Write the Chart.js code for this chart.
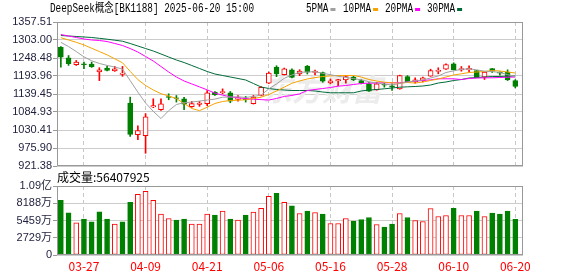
<!DOCTYPE html>
<html>
<head>
<meta charset="utf-8">
<script src="https://cdn.jsdelivr.net/npm/chart.js@4.4.1/dist/chart.umd.min.js"></script>
<style>
  html, body { margin: 0; padding: 0; background: #fff; }
  #wrap { position: relative; width: 578px; height: 276px; }
  #wrap canvas { position: absolute; left: 0; top: 0; }
</style>
</head>
<body>
<div id="wrap">
  <canvas id="kline" width="578" height="276"></canvas>
  <canvas id="volume" width="578" height="276"></canvas>
</div>
<script>
// trading days shown (2025)
const dates = ['03-24','03-25','03-26','03-27','03-28','03-31','04-01','04-02','04-03','04-07',
  '04-08','04-09','04-10','04-11','04-14','04-15','04-16','04-17','04-18','04-21',
  '04-22','04-23','04-24','04-25','04-28','04-29','04-30','05-06','05-07','05-08',
  '05-09','05-12','05-13','05-14','05-15','05-16','05-19','05-20','05-21','05-22',
  '05-23','05-26','05-27','05-28','05-29','05-30','06-03','06-04','06-05','06-06',
  '06-09','06-10','06-11','06-12','06-13','06-16','06-17','06-18','06-19','06-20'];
const xLabels = ['03-27','04-09','04-21','05-06','05-16','05-28','06-10','06-20'];

const opens  = [1281,1249,1228,1231,1230,1206,1218,1209,1199,1112,
  1016,1013,1100,1092,1132,1128,1125,1101,1108,1110,
  1145,1143,1143,1123,1125,1110,1135,1172,1221,1198,
  1213,1200,1224,1204.6,1204,1173,1179,1182,1190.4,1180,
  1170,1152,1169,1164,1155,1192.4,1176,1180.3,1193.4,1207.6,
  1214.6,1231,1212.7,1213,1210.6,1190.4,1216.7,1205.5,1205.5,1180.3];
const highs  = [1283,1256,1241,1236,1236,1219,1224,1223,1223,1130,
  1043,1080,1125,1125,1140,1135,1129,1117,1117,1150,
  1147,1155,1147,1135,1132,1135,1162,1206,1225,1218,
  1216,1213,1226,1212,1206,1185,1184,1196,1193,1183,
  1174,1175,1172,1170,1196.5,1195,1188.5,1191,1214.6,1218.8,
  1231,1234,1222.7,1224.8,1211,1206,1217,1206.5,1212.7,1183];
const lows   = [1221,1226,1226,1216,1220,1180,1209,1208,1193,1011,
  1001,960,1098,1090,1122,1115,1092,1099,1102,1104,
  1135,1140,1113,1118,1115,1109,1134,1171,1192,1197,
  1188,1195,1200,1197,1175,1170,1165,1172,1180,1170,
  1147,1151,1160,1150,1154,1175,1172,1176,1193,1200.5,
  1214,1212,1208.5,1205.5,1188.5,1183.4,1204.6,1196.5,1180.3,1158];
const closes = [1251,1231,1236,1228,1222,1213,1211,1216,1203,1017,
  1029,1070,1104,1110,1129,1126,1109,1110.5,1112,1143,
  1137,1147,1118,1128,1122,1130,1160,1202.5,1200,1216,
  1190,1208.5,1205.5,1208.5,1178,1179,1183.4,1192.4,1182.4,1172,
  1148,1170,1166,1160,1195.5,1175.2,1182.4,1188.5,1210.6,1211.5,
  1228.8,1212.7,1216.7,1217,1188.5,1205.5,1208.5,1202.5,1182.4,1162.2];

const ma5  = [1296,1283,1268,1252,1240,1232,1226,1221,1215,1180,
  1145,1112,1087,1065,1089,1107.6,1113,1115,1118,1121,
  1124,1129.8,1130,1131,1129,1132,1136,1155,1170,1187,
  1197,1205,1206,1207,1202,1198,1193,1190,1186,1182.5,
  1176.5,1173,1169,1167,1171,1176,1179,1182,1188,1194,
  1204.6,1209.5,1214,1216,1212.5,1208.6,1207.4,1204.5,1198,1192.3];
const ma10 = [1310,1303,1296,1288,1278,1268,1258,1246,1234,1208,
  1183,1165.2,1151.5,1140.5,1133.4,1125.8,1110.7,1095.5,1089,1099.5,
  1110.7,1116.7,1119.7,1120.7,1121.9,1125.8,1129.7,1137.9,1148.5,1160,
  1172,1179,1185,1189,1192.4,1194,1195.5,1195.5,1195.5,1190.9,
  1183.3,1178.8,1175.2,1173.4,1172.1,1174.3,1172.7,1175.8,1180.3,1184.9,
  1190.9,1197,1200.6,1204.6,1206.1,1207.6,1210.6,1209.1,1206.1,1203];
const ma20 = [1319.6,1315.1,1310.6,1306,1303,1301.5,1298.4,1292.4,1286.3,1277.2,
  1266.6,1253,1239.4,1222.7,1206.1,1190.9,1178.8,1170,1161,1152,
  1142,1136,1131,1128,1125.5,1123.5,1122.5,1121,1126,1132,
  1135,1140,1150,1153.1,1156.1,1159.1,1163.1,1165.2,1168.2,1171.2,
  1172.1,1172.7,1173.4,1173.4,1173.4,1175.8,1178.2,1180.3,1182.4,1185.5,
  1185.5,1185.5,1183.3,1186.4,1187.9,1188.5,1188.5,1189.4,1190.3,1190.8];
const ma30 = [1316.6,1315.1,1313.6,1312.1,1310.6,1308.1,1305.4,1302.4,1299.3,1292.4,
  1284.8,1277.2,1269.7,1260.6,1251.5,1242.4,1234.8,1225.8,1216.7,1207.6,
  1200,1195.5,1190.9,1186.4,1181.8,1171.2,1160.6,1156.1,1153.1,1151.5,
  1150,1150,1150,1148.5,1145.5,1143.1,1143.1,1143.1,1143.1,1148.5,
  1151.5,1153.1,1155.2,1157.6,1160,1161.2,1162.2,1163.7,1166.7,1172.7,
  1175.8,1180.3,1183.3,1187.9,1189.4,1190.9,1192.4,1192.4,1193.3,1194];

// volume in 万 (10k shares); volUp: 1 = red bar, 0 = green bar
const volume = [8663,6662,5087,5670,5245,6820,5670,4883,5245,8348,
  9608,10080,8663,6458,5780,5513,5670,4883,4883,6458,
  6300,6930,5670,5513,6300,6773,7403,9293,9765,8348,
  7765,6563,6930,6720,6458,4988,4988,5780,5355,5618,
  5933,4830,4410,4883,6563,5933,5460,5303,7350,6090,
  6248,7403,6248,6248,6930,6090,6615,6458,6930,5640.7925];
const volUp = [0,0,1,0,0,0,0,1,0,0, 1,1,1,1,1,0,0,1,1,1,
  0,1,0,1,0,1,1,1,0,1, 0,1,0,1,0,1,1,1,0,0,
  0,1,0,0,1,0,1,1,1,1, 1,0,1,1,0,1,0,0,0,0];

const priceTicks = ['921.38','975.90','1030.41','1084.93','1139.45','1193.96','1248.48','1303.00','1357.51'];
const volTicks = ['0','2729万','5459万','8188万','1.09亿'];
const priceMin = 921.38, priceMax = 1357.51;
const volMax = 10917;

const titleText = 'DeepSeek概念[BK1188] 2025-06-20 15:00';
const maNames = ['5PMA','10PMA','20PMA','30PMA'];
const watermark = '东方财富';

const RED = '#ff0000', GREEN = '#008000';
const maColors = ['#a0a0a0','#f5a300','#ff00ff','#006b3a'];
const gridIdx = xLabels.map(l => dates.indexOf(l));
const idx = dates.map((d, i) => i);
const up = idx.map(i => closes[i] >= opens[i]);

const axisFont = { family: '"Liberation Sans", "Noto Sans CJK SC"', size: 11 };
const axisColor = '#1e1e3c';
const monoFont = '12px "Liberation Mono", "Noto Sans CJK SC"';

function frame(chart) {
  const a = chart.chartArea, ctx = chart.ctx;
  ctx.save();
  ctx.strokeStyle = '#999';
  ctx.lineWidth = 1;
  ctx.strokeRect(a.left + 0.5, a.top + 0.5, a.right - a.left - 1, a.bottom - a.top - 1);
  ctx.restore();
}

// narrow text, like the bitmap font of the original
function narrowText(ctx, text, x, y, sx) {
  ctx.save();
  ctx.translate(x, y);
  ctx.scale(sx, 1);
  ctx.fillText(text, 0, 0);
  const w = ctx.measureText(text).width * sx;
  ctx.restore();
  return w;
}

const xScale = (showLabels) => ({
  type: 'linear', min: -0.5, max: 60, offset: false,
  afterBuildTicks: s => { s.ticks = gridIdx.map(v => ({ value: v })); },
  afterFit: s => { s.height = showLabels ? 21 : 0; },
  ticks: {
    display: showLabels, autoSkip: false, maxRotation: 0, padding: 4,
    color: RED, font: { family: '"Noto Sans CJK SC"', size: 12 },
    callback: v => dates[v]
  },
  grid: { color: '#c8c8c8', drawTicks: false, offset: false },
  border: { display: false, dash: [4, 3] }
});

const yTicks = (labels) => ({
  color: axisColor, font: axisFont, padding: 1, autoSkip: false,
  callback: (v, k) => labels[k]
});

const kPlugin = {
  id: 'kdeco',
  beforeDatasetsDraw(chart) {
    const ctx = chart.ctx;
    ctx.save();
    ctx.fillStyle = '#ececec';
    ctx.textBaseline = 'middle';
    ctx.font = 'italic bold 30px "Noto Sans CJK SC"';
    ctx.fillText(watermark, 262, 90);
    ctx.restore();
  },
  afterDraw(chart) {
    frame(chart);
    const ctx = chart.ctx;
    ctx.save();
    ctx.fillStyle = '#000';
    ctx.textBaseline = 'middle';
    ctx.font = monoFont;
    narrowText(ctx, titleText, 50, 9, 0.78);
    const lx = [306, 343, 385, 427];
    maNames.forEach((n, k) => {
      ctx.fillStyle = '#000';
      const w = narrowText(ctx, n, lx[k], 9, 0.78);
      ctx.fillStyle = maColors[k];
      ctx.fillRect(lx[k] + w + 2, 8, 5, 3);
    });
    ctx.restore();
  }
};

new Chart(document.getElementById('kline'), {
  data: {
    datasets: [
      ...[ma5, ma10, ma20, ma30].map((m, k) => ({
        type: 'line', order: 0, label: maNames[k],
        data: idx.map(i => ({ x: i, y: m[i] })),
        borderColor: maColors[k], borderWidth: 1, pointRadius: 0, tension: 0
      })),
      {
        type: 'bar', order: 1, grouped: false,
        data: idx.map(i => ({ x: i, y: [opens[i], closes[i]] })),
        barThickness: 5, borderSkipped: false, borderWidth: 1,
        backgroundColor: idx.map(i => up[i] ? '#ffffff' : GREEN),
        borderColor: idx.map(i => up[i] ? RED : GREEN)
      },
      {
        type: 'bar', order: 2, grouped: false,
        data: idx.map(i => ({ x: i, y: [lows[i], highs[i]] })),
        barThickness: 1, borderWidth: 0,
        backgroundColor: idx.map(i => up[i] ? RED : GREEN)
      }
    ]
  },
  options: {
    responsive: false, animation: false,
    layout: { padding: { top: 22, right: 55, bottom: 110, left: 0 } },
    plugins: { legend: { display: false }, tooltip: { enabled: false } },
    scales: {
      x: xScale(false),
      y: {
        min: priceMin, max: priceMax,
        afterBuildTicks: s => {
          s.ticks = priceTicks.map((t, k) => ({ value: priceMin + k * (priceMax - priceMin) / 8 }));
        },
        afterFit: s => { s.width = 57; },
        ticks: yTicks(priceTicks),
        grid: { color: '#cccccc', tickColor: '#999', tickLength: 4 },
        border: { display: false }
      }
    }
  },
  plugins: [kPlugin]
});

const vPlugin = {
  id: 'vdeco',
  afterDraw(chart) {
    frame(chart);
    const ctx = chart.ctx;
    ctx.save();
    ctx.fillStyle = '#000';
    ctx.textBaseline = 'middle';
    ctx.font = '12px "Noto Sans CJK SC"';
    ctx.fillText('成交量:' + Math.round(volume[volume.length - 1] * 10000), 57, 177);
    ctx.restore();
  }
};

new Chart(document.getElementById('volume'), {
  type: 'bar',
  data: {
    datasets: [{
      data: idx.map(i => ({ x: i, y: volume[i] })),
      barThickness: 5, borderSkipped: false, borderWidth: 1,
      backgroundColor: idx.map(i => volUp[i] ? '#ffffff' : GREEN),
      borderColor: idx.map(i => volUp[i] ? RED : GREEN)
    }]
  },
  options: {
    responsive: false, animation: false,
    layout: { padding: { top: 186, right: 55, bottom: 0, left: 0 } },
    plugins: { legend: { display: false }, tooltip: { enabled: false } },
    scales: {
      x: xScale(true),
      y: {
        min: 0, max: volMax,
        afterBuildTicks: s => {
          s.ticks = volTicks.map((t, k) => ({ value: k * volMax / 4 }));
        },
        afterFit: s => { s.width = 57; },
        ticks: yTicks(volTicks),
        grid: { color: '#cccccc', tickColor: '#999', tickLength: 4 },
        border: { display: false }
      }
    }
  },
  plugins: [vPlugin]
});
</script>
</body>
</html>
